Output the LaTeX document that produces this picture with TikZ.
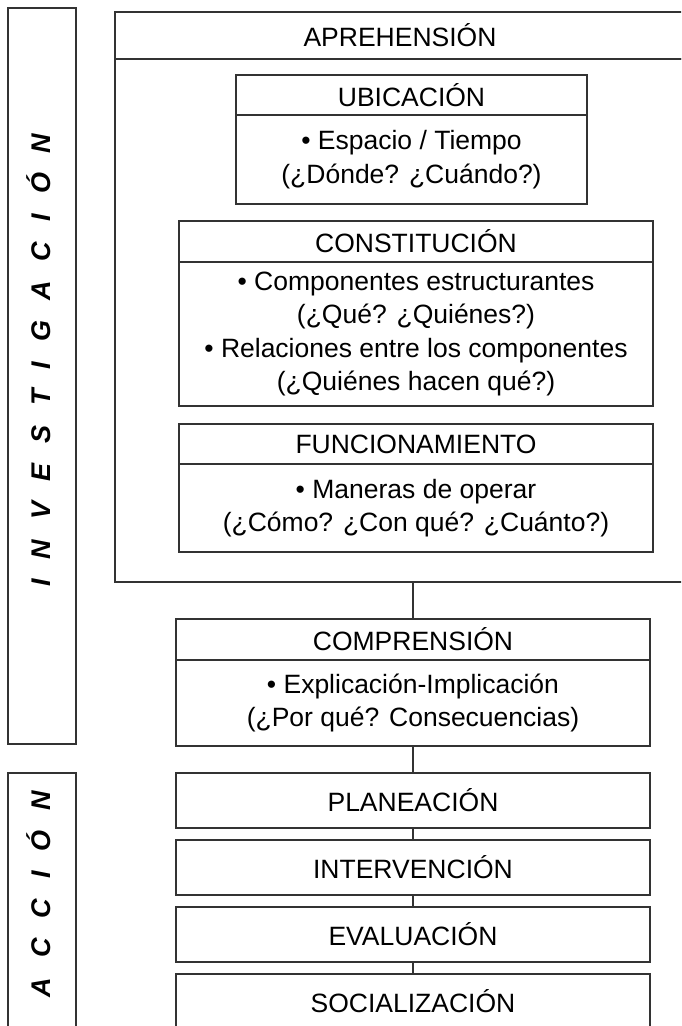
\documentclass[tikz,border=0pt]{standalone}
\usepackage{fontspec}
\setmainfont{Liberation Sans}
\definecolor{lc}{HTML}{333333}
\begin{document}
\begin{tikzpicture}[x=1pt,y=-1pt,
  box/.style={draw=lc, line width=1.1pt, inner sep=0pt, outer sep=0pt, align=center,
    font=\fontsize{26.5}{33.5}\selectfont},
  sidetext/.style={rotate=90, anchor=base, inner sep=0pt,
    font=\fontsize{27}{32}\selectfont\bfseries\itshape},
  link/.style={draw=lc, line width=1.1pt}]
\useasboundingbox (0,0) rectangle (681,1026);
\clip (0,0) rectangle (681,1026);

% side bands
\node[box, minimum width=68pt, minimum height=736pt] (invbox) at (42,376) {};
\node[sidetext] (invtxt) at (50,360) {\spaceskip=20pt I N V E S T I G A C I Ó N};
\node[box, minimum width=68pt, minimum height=267pt] (accbox) at (42,906.5) {};
\node[sidetext] (acctxt) at (50,894) {\spaceskip=20pt A C C I Ó N};

% APREHENSION
\node[box, minimum width=570pt, minimum height=47pt] (aprH) at (400,35.5) {APREHENSIÓN};
\node[box, minimum width=570pt, minimum height=523pt] (aprB) at (400,320.5) {};

% UBICACION
\node[box, minimum width=351pt, minimum height=40pt] (ubiH) at (411.5,95) {UBICACIÓN};
\node[box, minimum width=351pt, minimum height=89pt] (ubiB) at (411.5,159.5)
  {• Espacio / Tiempo\\(¿Dónde? ¿Cuándo?)};

% CONSTITUCION
\node[box, minimum width=474pt, minimum height=41pt] (conH) at (416,241.5) {CONSTITUCIÓN};
\node[box, minimum width=474pt, minimum height=144pt] (conB) at (416,334)
  {• Componentes estructurantes\\(¿Qué? ¿Quiénes?)\\• Relaciones entre los componentes\\(¿Quiénes hacen qué?)};

% FUNCIONAMIENTO
\node[box, minimum width=474pt, minimum height=40pt] (funH) at (416,444) {FUNCIONAMIENTO};
\node[box, minimum width=474pt, minimum height=88pt] (funB) at (416,508)
  {• Maneras de operar\\(¿Cómo? ¿Con qué? ¿Cuánto?)};

% COMPRENSION
\node[box, minimum width=474pt, minimum height=41pt] (comH) at (413,639.5) {COMPRENSIÓN};
\node[box, minimum width=474pt, minimum height=86pt] (comB) at (413,703)
  {• Explicación-Implicación\\(¿Por qué? Consecuencias)};

% ACCION steps
\node[box, minimum width=474pt, minimum height=55pt] (pla) at (413,800.5) {PLANEACIÓN};
\node[box, minimum width=474pt, minimum height=55pt] (int) at (413,867.5) {INTERVENCIÓN};
\node[box, minimum width=474pt, minimum height=55pt] (eva) at (413,934.5) {EVALUACIÓN};
\node[box, minimum width=474pt, minimum height=55pt] (soc) at (413,1001.5) {SOCIALIZACIÓN};

% connectors
\draw[link] (aprB.south -| comH.north) -- (comH.north);
\draw[link] (comB.south) -- (pla.north);
\draw[link] (pla.south) -- (int.north);
\draw[link] (int.south) -- (eva.north);
\draw[link] (eva.south) -- (soc.north);
\end{tikzpicture}
\end{document}
